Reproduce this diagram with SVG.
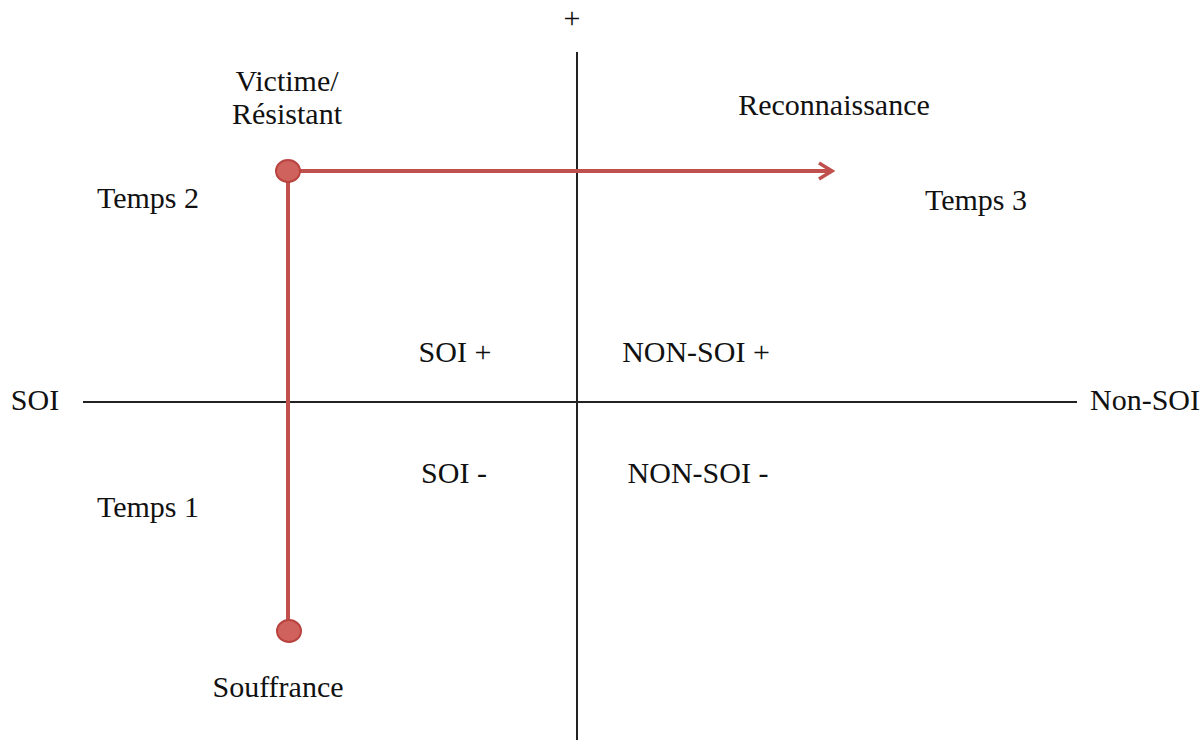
<svg xmlns="http://www.w3.org/2000/svg" width="1204" height="751" viewBox="0 0 1204 751">
<style>
text{font-family:"Liberation Serif","Times New Roman",serif;font-size:30px;fill:#111}
.axis{stroke:#222;stroke-width:2;fill:none}
.red{stroke:#c0504d;stroke-width:4;fill:none}
.dot{fill:#d0625d;stroke:#b8433f;stroke-width:2}
</style>
<defs>
<marker id="arr" viewBox="0 0 20 20" refX="17" refY="10" markerWidth="20" markerHeight="20" markerUnits="userSpaceOnUse" orient="auto">
<path d="M4,2 L17,10 L4,18" fill="none" stroke="#c0504d" stroke-width="3.5" stroke-linejoin="miter"/>
</marker>
</defs>
<rect width="1204" height="751" fill="#fff"/>
<g id="connectors">
<line class="axis" x1="577" y1="52" x2="577" y2="740"/>
<line class="axis" x1="83" y1="402" x2="1077" y2="402"/>
<line class="red" x1="288" y1="171" x2="288" y2="631"/>
<line class="red" x1="288" y1="171" x2="832" y2="171" marker-end="url(#arr)"/>
</g>
<g id="victime">
<ellipse class="dot" cx="288" cy="171" rx="12" ry="11"/>
<text x="287" y="91" text-anchor="middle">Victime/</text>
<text x="287" y="124" text-anchor="middle">Résistant</text>
</g>
<g id="souffrance">
<ellipse class="dot" cx="289" cy="631" rx="12" ry="11"/>
<text x="278" y="697" text-anchor="middle">Souffrance</text>
</g>
<g id="labels">
<text x="572" y="28" text-anchor="middle">+</text>
<text x="834" y="115" text-anchor="middle">Reconnaissance</text>
<text x="976" y="210" text-anchor="middle">Temps 3</text>
<text x="148" y="208" text-anchor="middle">Temps 2</text>
<text x="148" y="517" text-anchor="middle">Temps 1</text>
<text x="455" y="362" text-anchor="middle">SOI +</text>
<text x="696" y="362" text-anchor="middle">NON-SOI +</text>
<text x="454" y="483" text-anchor="middle">SOI -</text>
<text x="698" y="483" text-anchor="middle">NON-SOI -</text>
<text x="35" y="410" text-anchor="middle">SOI</text>
<text x="1145" y="410" text-anchor="middle">Non-SOI</text>
</g>
</svg>
